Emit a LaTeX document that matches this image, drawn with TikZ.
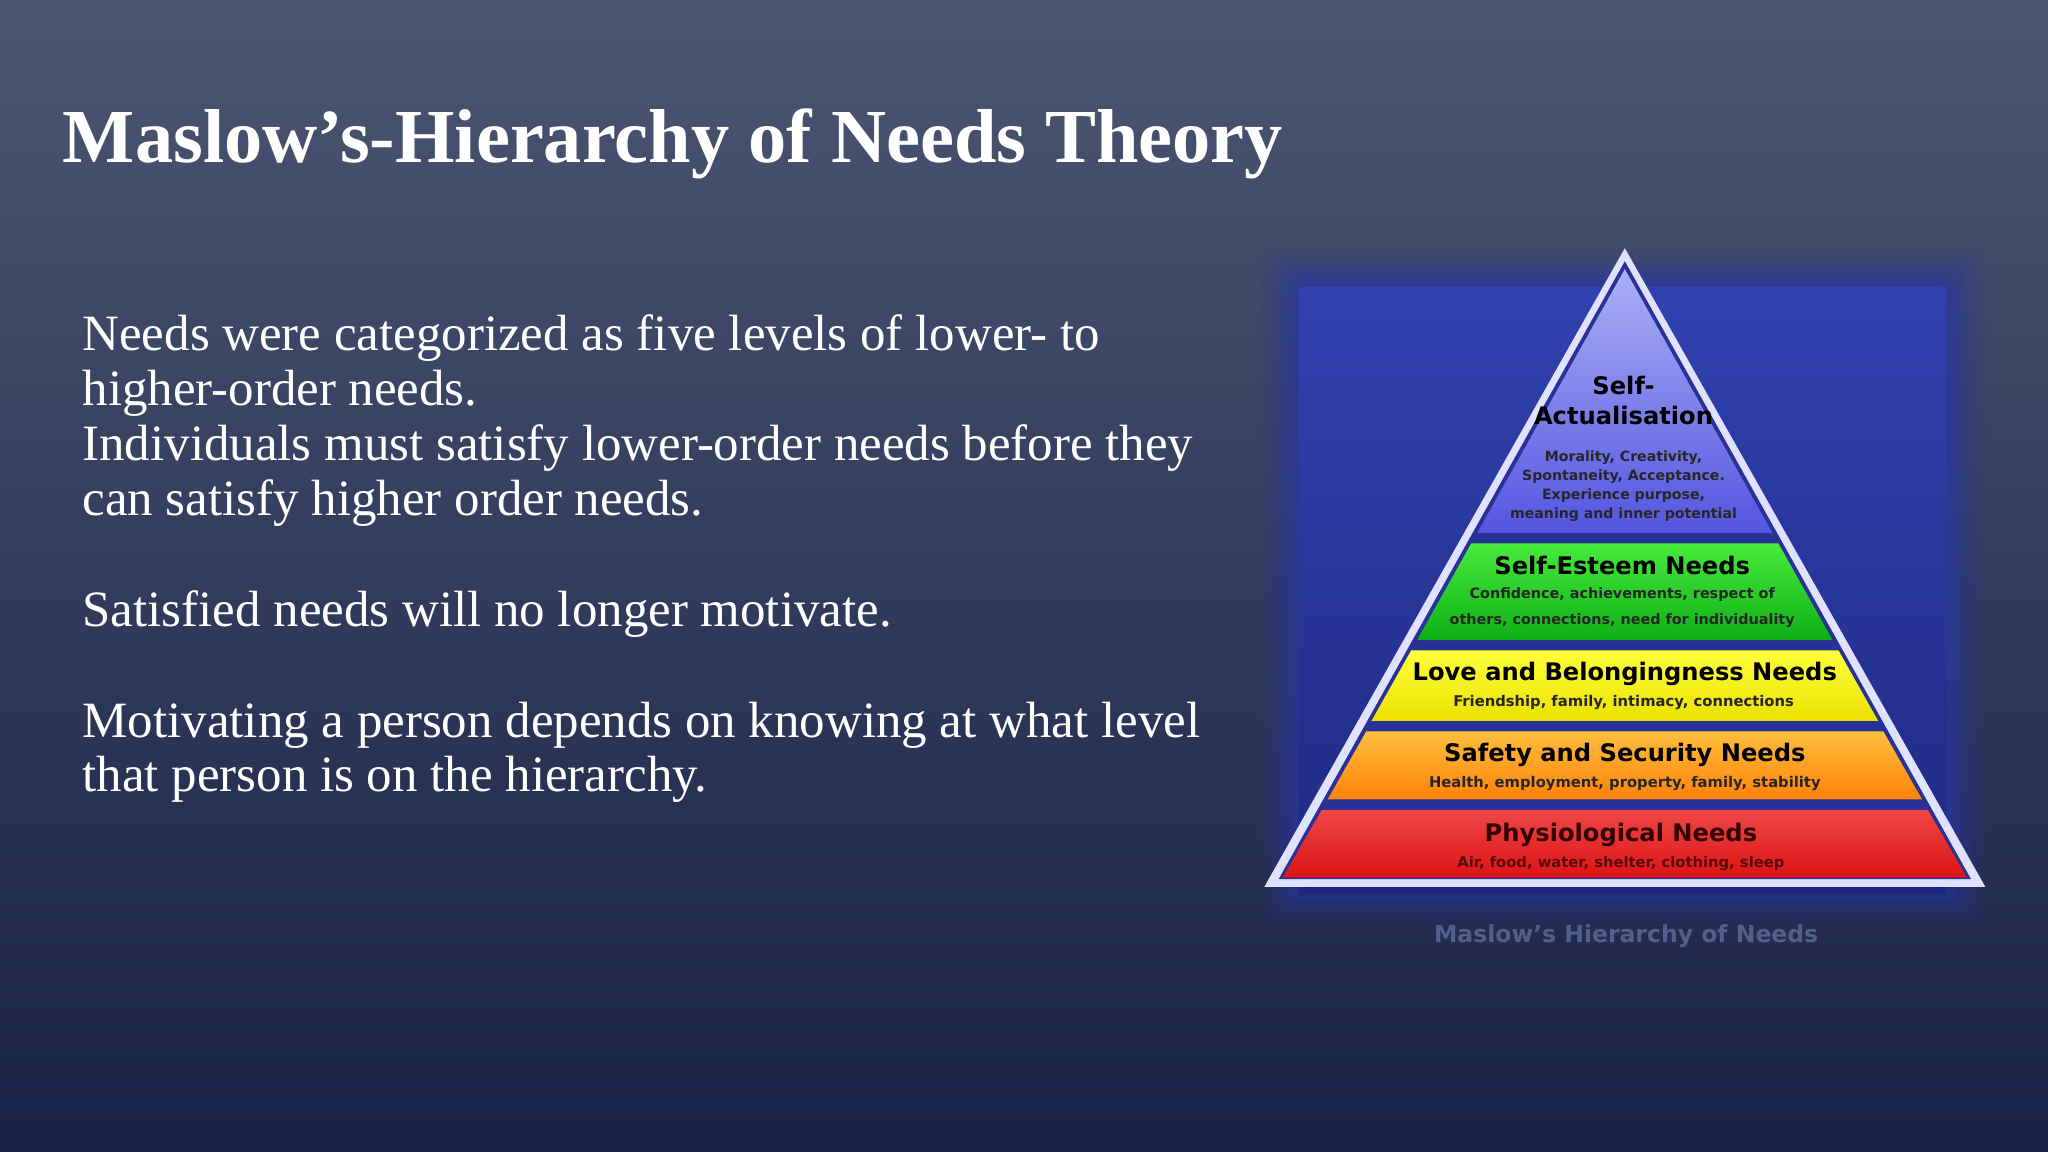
\documentclass[tikz,border=0pt]{standalone}
\usepackage{fontspec}
\setmainfont{Liberation Serif}
\newfontfamily\pyr{DejaVu Sans}
\definecolor{bgtop}{RGB}{76,86,114}
\definecolor{bgbot}{RGB}{26,33,70}
\definecolor{glow}{RGB}{40,55,160}
\definecolor{bxtop}{RGB}{48,66,176}
\definecolor{bxbot}{RGB}{32,40,130}
\definecolor{inner}{RGB}{40,50,150}
\definecolor{satop}{RGB}{170,175,245}
\definecolor{sabot}{RGB}{85,85,225}
\definecolor{grtop}{RGB}{70,235,60}
\definecolor{grbot}{RGB}{15,175,20}
\definecolor{yetop}{RGB}{255,255,60}
\definecolor{yebot}{RGB}{235,225,0}
\definecolor{ortop}{RGB}{255,190,60}
\definecolor{orbot}{RGB}{255,130,10}
\definecolor{retop}{RGB}{240,70,70}
\definecolor{rebot}{RGB}{220,20,20}
\definecolor{phtxt}{RGB}{50,0,0}
\definecolor{phsub}{RGB}{90,10,10}
\definecolor{captxt}{RGB}{80,95,140}
\begin{document}
\begin{tikzpicture}[x=1pt,y=-1pt,
  body/.style={anchor=west,text=white,font=\fontsize{39}{44}\selectfont,inner sep=0},
  big/.style={text=black,font=\pyr\bfseries\fontsize{18.5}{20}\selectfont,inner sep=0},
  small/.style={text=black!85,font=\pyr\bfseries\fontsize{11.3}{13}\selectfont,inner sep=0}]
\shade[top color=bgtop,bottom color=bgbot] (0,0) rectangle (1568,882);
\useasboundingbox (0,0) rectangle (1568,882);
% pyramid backdrop
\foreach \i/\o in {0/0.08,5/0.1,10/0.14,15/0.2,20/0.3,25/0.4}{
 \fill[glow,opacity=\o,rounded corners=12] (965+\i,190+\i) rectangle (1520-\i,710-\i);}
\shade[top color=bxtop,bottom color=bxbot] (995,220) rectangle (1490,685);
% triangle outline
\fill[white!88!blue] (1244,190) -- (1520,679) -- (968,679) -- cycle;
\fill[inner] (1244,200) -- (1509,673) -- (979,673) -- cycle;
\shade[top color=satop,bottom color=sabot] (1244,206) -- (1357,408) -- (1131,408) -- cycle;
\shade[top color=grtop,bottom color=grbot] (1126.4,416) -- (1361.6,416) -- (1403,490) -- (1085,490) -- cycle;
\shade[top color=yetop,bottom color=yebot] (1080.4,498) -- (1407.6,498) -- (1438,552) -- (1050,552) -- cycle;
\shade[top color=ortop,bottom color=orbot] (1046,560) -- (1442,560) -- (1471.5,612) -- (1016.5,612) -- cycle;
\shade[top color=retop,bottom color=rebot] (1012,620) -- (1476,620) -- (1506,672) -- (982,672) -- cycle;
% pyramid texts
\node[big] (sa1) at (1243,295) {Self-};
\node[big] (sa2) at (1243,318) {Actualisation};
\node[small,align=center,font=\pyr\bfseries\fontsize{10.8}{14.5}\selectfont] (sa3) at (1243,372) {Morality, Creativity,\\Spontaneity, Acceptance.\\Experience purpose,\\meaning and inner potential};
\node[big] (se1) at (1242,433) {Self-Esteem Needs};
\node[small,align=center,font=\pyr\bfseries\fontsize{11}{20}\selectfont] (se2) at (1242,465) {Confidence, achievements, respect of\\others, connections, need for individuality};
\node[big] (lb1) at (1244,516) {Love and Belongingness Needs};
\node[small] (lb2) at (1243,538) {Friendship, family, intimacy, connections};
\node[big] (ss1) at (1244,578) {Safety and Security Needs};
\node[small] (ss2) at (1244,600) {Health, employment, property, family, stability};
\node[big,text=phtxt] (ph1) at (1241,639) {Physiological Needs};
\node[small,text=phsub] (ph2) at (1241,661) {Air, food, water, shelter, clothing, sleep};
\node[text=captxt,font=\pyr\bfseries\fontsize{18}{20}\selectfont,inner sep=0] (cap) at (1245,717) {Maslow’s Hierarchy of Needs};
% slide text
\node[anchor=west,text=white,font=\bfseries\fontsize{58.5}{62}\selectfont,inner sep=0] (title) at (48,110) {Maslow’s-Hierarchy of Needs Theory};
\node[body] (l1) at (63,259) {Needs were categorized as five levels of lower- to};
\node[body] (l2) at (63,301) {higher-order needs.};
\node[body] (l3) at (63,343) {Individuals must satisfy lower-order needs before they};
\node[body] (l4) at (63,385) {can satisfy higher order needs.};
\node[body] (l5) at (63,470) {Satisfied needs will no longer motivate.};
\node[body] (l6) at (63,555) {Motivating a person depends on knowing at what level};
\node[body] (l7) at (63,597) {that person is on the hierarchy.};
\end{tikzpicture}
\end{document}
